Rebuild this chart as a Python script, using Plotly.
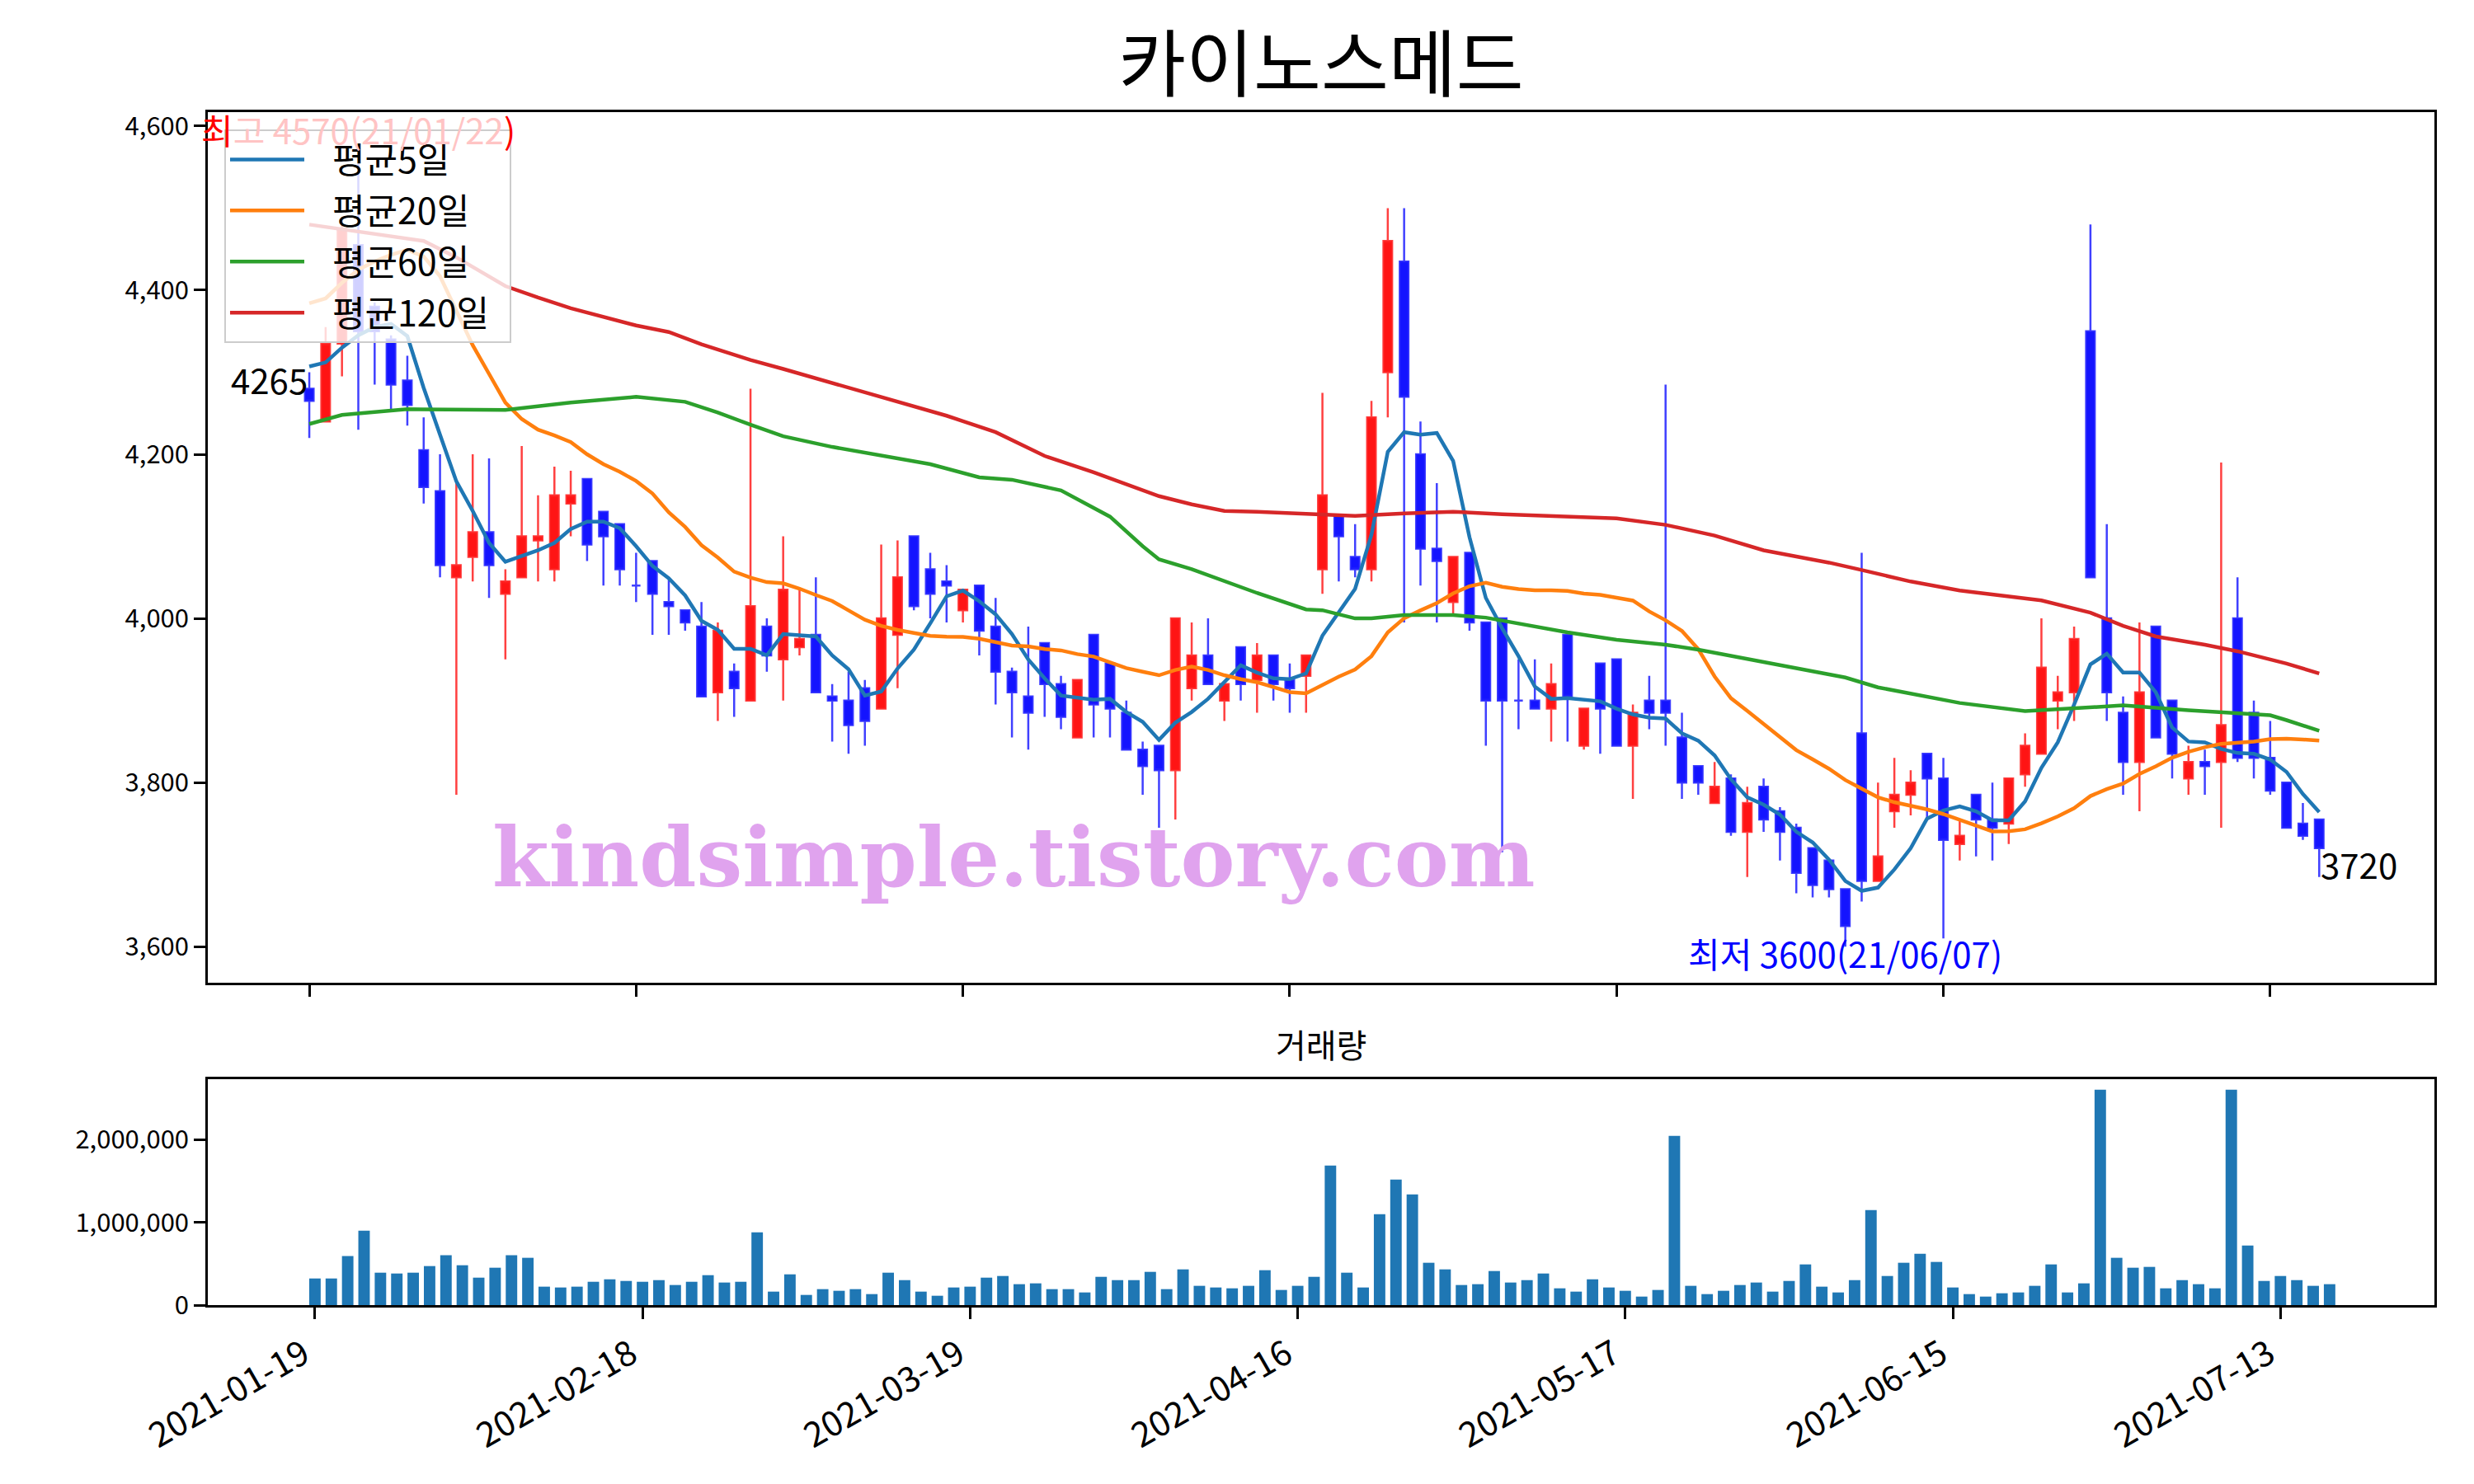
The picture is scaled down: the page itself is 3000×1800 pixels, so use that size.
import plotly.graph_objects as go
import pandas as pd

# ---------------- data ----------------
tick_idx = [0, 20, 40, 60, 80, 100, 120]
tick_labels = ["2021-01-19", "2021-02-18", "2021-03-19", "2021-04-16",
               "2021-05-17", "2021-06-15", "2021-07-13"]

opens = [4280,4240,4335,4455,4380,4340,4290,4205,4155,4050,
         4075,4105,4030,4050,4095,4060,4140,4170,4130,4115,
         4040,4070,4020,4010,3990,3910,3935,3900,3990,3950,
         3965,3980,3905,3900,3915,3890,3980,4100,4060,4045,
         4010,4040,3990,3935,3905,3970,3920,3855,3980,3945,
         3885,3840,3845,3815,3915,3955,3900,3965,3925,3955,
         3925,3930,4060,4125,4075,4060,4300,4435,4200,4085,
         4020,4080,3995,4000,3900,3900,3890,3980,3845,3945,
         3950,3845,3900,3900,3855,3820,3775,3805,3740,3795,
         3765,3745,3720,3705,3670,3860,3680,3765,3785,3835,
         3805,3725,3785,3755,3750,3810,3835,3900,3910,4350,
         4000,3885,3825,3990,3900,3805,3825,3825,4000,3885,
         3830,3800,3750,3755]
highs = [4300,4355,4485,4570,4385,4345,4320,4245,4200,4165,
         4200,4195,4060,4210,4150,4185,4180,4170,4130,4115,
         4080,4070,4050,4010,4020,3995,3945,4280,4000,4100,
         4035,4050,3920,3935,3925,4090,4095,4100,4080,4065,
         4035,4040,4025,3940,3990,3970,3930,3925,3980,3945,
         3900,3850,3845,4000,3995,4000,3920,3965,3970,3955,
         3945,3955,4275,4125,4115,4265,4500,4500,4240,4165,
         4075,4080,3995,4000,3950,3950,3945,3980,3890,3945,
         3950,3895,3930,4285,3885,3820,3825,3810,3795,3805,
         3770,3750,3720,3705,3670,4080,3800,3830,3815,3835,
         3830,3755,3785,3800,3805,3860,4000,3930,3990,4480,
         4115,3905,3995,3990,3900,3845,3840,4190,4050,3900,
         3875,3800,3775,3755]
lows = [4220,4240,4295,4230,4285,4255,4235,4140,4050,3785,
        4045,4025,3950,4050,4045,4045,4100,4070,4040,4040,
        4020,3980,3980,3985,3905,3875,3880,3900,3935,3900,
        3955,3910,3850,3835,3845,3890,3915,4010,4000,3995,
        3995,3955,3895,3855,3840,3880,3865,3855,3855,3855,
        3840,3785,3745,3755,3900,3920,3875,3900,3885,3900,
        3885,3885,4030,4045,4050,4045,4245,3995,4040,3995,
        4005,3985,3845,3715,3865,3890,3850,3850,3840,3835,
        3845,3780,3865,3845,3780,3785,3775,3735,3685,3740,
        3705,3665,3660,3660,3600,3655,3680,3745,3760,3755,
        3610,3705,3710,3705,3725,3795,3835,3865,3875,4050,
        3875,3785,3765,3855,3805,3785,3785,3745,3825,3805,
        3785,3745,3730,3685]
closes = [4265,4335,4475,4350,4350,4285,4260,4160,4065,4065,
          4105,4065,4045,4100,4100,4150,4150,4090,4100,4060,
          4040,4030,4015,3995,3905,3985,3915,4015,3955,4035,
          3975,3910,3900,3870,3875,4000,4050,4015,4030,4040,
          4035,3985,3935,3910,3885,3920,3880,3925,3895,3890,
          3840,3820,3815,4000,3955,3920,3920,3920,3955,3920,
          3915,3955,4150,4100,4060,4245,4460,4270,4085,4070,
          4075,3995,3900,3900,3900,3890,3920,3905,3890,3890,
          3845,3885,3885,3885,3800,3800,3795,3740,3775,3755,
          3740,3690,3675,3670,3625,3680,3710,3785,3800,3805,
          3730,3735,3755,3745,3805,3845,3940,3910,3975,4050,
          3910,3825,3910,3855,3835,3825,3820,3870,3830,3830,
          3790,3745,3735,3720]
volumes = [322000,322000,592000,900000,392000,382000,392000,472000,602000,482000,
           332000,452000,602000,572000,223000,213000,223000,282000,312000,292000,
           282000,302000,243000,282000,362000,273000,282000,881000,163000,372000,
           123000,193000,173000,193000,133000,392000,302000,163000,113000,213000,
           223000,332000,352000,253000,263000,193000,193000,153000,342000,302000,
           302000,402000,193000,432000,233000,213000,203000,233000,422000,183000,
           233000,342000,1688000,392000,213000,1100000,1519000,1339000,512000,432000,
           243000,253000,412000,273000,302000,382000,203000,163000,312000,213000,
           173000,103000,183000,2047000,233000,133000,173000,243000,273000,163000,
           292000,492000,223000,153000,302000,1150000,352000,512000,621000,522000,
           213000,133000,103000,143000,153000,233000,492000,153000,263000,2606000,
           572000,452000,462000,203000,302000,253000,203000,2606000,721000,292000,
           352000,302000,233000,253000]

ma5_head = [4307, 4312, 4330, 4345]
ma20_head = [4384, 4390, 4409, 4425, 4435, 4443, 4449, 4441, 4417, 4376,
             4333, 4298, 4263, 4243, 4230, 4223, 4215, 4200, 4188]
ma60_idx = [0,2,6,12,16,20,23,25,27,29,32,35,38,41,43,46,49,51,52,54,56,58,61,62,
            64,65,67,70,72,74,77,80,83,85,88,91,94,96,99,101,105,108,111,115,118,120,121,123]
ma60_val = [4237,4248,4255,4254,4263,4270,4264,4251,4236,4222,4209,4198,4188,4172,4169,
            4156,4124,4088,4072,4060,4045,4031,4011,4010,4000,4000,4004,4004,4001,3994,
            3983,3974,3968,3962,3951,3940,3928,3916,3905,3897,3887,3890,3894,3888,3885,
            3882,3876,3863]
ma120_idx = [0,7,9,12,14,16,20,22,24,27,29,33,36,39,42,45,48,51,52,54,56,58,61,64,67,70,
             73,77,80,83,86,89,93,95,98,101,103,106,109,111,113,116,118,121,123]
ma120_val = [4480,4460,4440,4405,4391,4378,4357,4349,4334,4315,4304,4281,4264,4247,4227,
             4198,4178,4157,4149,4139,4131,4130,4128,4125,4128,4130,4127,4124,4122,4114,
             4101,4083,4068,4059,4045,4034,4029,4022,4007,3991,3978,3968,3960,3945,3933]

idx = list(range(len(closes)))
cs = pd.Series(closes, dtype=float)
ma5 = ma5_head + cs.rolling(5).mean().tolist()[len(ma5_head):]
ma20 = ma20_head + cs.rolling(20).mean().tolist()[len(ma20_head):]

FONT = "Noto Sans CJK KR"
W, H = 2984, 1784   # page body has an 8px margin

fig = go.Figure()
fig.add_trace(go.Candlestick(
    x=idx, open=opens, high=highs, low=lows, close=closes,
    increasing=dict(line=dict(color="rgba(255,30,30,0.85)", width=2.5),
                    fillcolor="rgba(255,0,0,0.92)"),
    decreasing=dict(line=dict(color="rgba(30,30,255,0.85)", width=2.5),
                    fillcolor="rgba(0,0,255,0.92)"),
    whiskerwidth=0, showlegend=False, hoverinfo="skip",
    xaxis="x", yaxis="y"))

NB = "\u00a0\u00a0\u00a0"
lines = [("평균5일", idx, ma5, "#1f77b4"),
         ("평균20일", idx, ma20, "#ff7f0e"),
         ("평균60일", ma60_idx, ma60_val, "#2ca02c"),
         ("평균120일", ma120_idx, ma120_val, "#d62728")]
for k, (name, xs, ys, col) in enumerate(lines):
    fig.add_trace(go.Scatter(x=xs, y=ys, mode="lines", name=NB + name + "\u00a0\u00a0",
                             line=dict(color=col, width=4.5),
                             legendgroup=f"g{k}", xaxis="x", yaxis="y"))

fig.add_trace(go.Bar(x=idx, y=volumes, marker=dict(color="#1f77b4", line=dict(width=0)),
                     width=0.7, showlegend=False, xaxis="x2", yaxis="y2"))

axis_common = dict(showline=True, mirror=True, linecolor="black", linewidth=2.5,
                   ticks="outside", ticklen=14, tickwidth=2.5, tickcolor="black",
                   showgrid=False, zeroline=False)
tf = dict(family=FONT, size=31, color="black")

fig.update_layout(
    width=W, height=H,
    paper_bgcolor="white", plot_bgcolor="white",
    margin=dict(l=244, r=40, t=128, b=209, autoexpand=False),
    font=dict(family=FONT, color="black"),
    title=dict(text="카이노스메드", x=0.5, xref="paper", y=1 - 71 / H, yref="container",
               xanchor="center", yanchor="middle", font=dict(family=FONT, size=89, color="black")),
    xaxis=dict(domain=[0, 1], range=[-6.21, 130.05], anchor="y", tickvals=tick_idx,
               showticklabels=False, rangeslider=dict(visible=False), **axis_common),
    yaxis=dict(domain=[0.2702, 1], range=[3556, 4617], anchor="x",
               tickvals=[3600, 3800, 4000, 4200, 4400, 4600], tickformat=",",
               tickfont=tf, **axis_common),
    xaxis2=dict(domain=[0, 1], range=[-6.54, 129.4], anchor="y2", tickvals=tick_idx,
                ticktext=tick_labels, tickangle=-30, ticklabelstandoff=2, ticklabelshift=-14,
                tickfont=dict(family=FONT, size=42, color="black"), **axis_common),
    yaxis2=dict(domain=[0, 0.1897], range=[0, 2737000], anchor="x2",
                tickvals=[0, 1000000, 2000000], tickformat=",", tickfont=tf, **axis_common),
    legend=dict(x=0.0074, y=0.9855, xanchor="left", yanchor="top",
                bgcolor="rgba(255,255,255,0.8)", bordercolor="#cccccc", borderwidth=2,
                font=dict(family=FONT, size=43, color="black"),
                itemwidth=90, traceorder="grouped", tracegroupgap=3),
    boxgap=0.24,
    showlegend=True,
)

max_text = ('<span style="color:#ff0000">최</span>'
            '<span style="color:#ffc4c4">고 4570(21/01/22</span>'
            '<span style="color:#ff0000">)</span>')
ann = [
    dict(x=3, y=4570, xref="x", yref="y", text=max_text, showarrow=False, yshift=-6,
         xanchor="center", yanchor="bottom", font=dict(family=FONT, size=42, color="red")),
    dict(x=94, y=3600, xref="x", yref="y", text="최저 3600(21/06/07)", showarrow=False,
         yshift=25, xanchor="center", yanchor="top",
         font=dict(family=FONT, size=42, color="blue")),
    dict(x=0, y=4265, xref="x", yref="y", text="4265", showarrow=False, yshift=-6,
         xanchor="right", yanchor="bottom", font=dict(family=FONT, size=42, color="black")),
    dict(x=123, y=3720, xref="x", yref="y", text="3720", showarrow=False, yshift=14,
         xanchor="left", yanchor="top", font=dict(family=FONT, size=42, color="black")),
    dict(x=43.1, y=3709, xref="x", yref="y", text="<b>kindsimple.tistory.com</b>",
         showarrow=False, xanchor="center", yanchor="middle",
         font=dict(family="DejaVu Serif", size=99, color="#e0a3ee")),
    dict(x=0.5, y=0.219, xref="paper", yref="paper", text="거래량", showarrow=False,
         xanchor="center", yanchor="middle", font=dict(family=FONT, size=40, color="black")),
]
fig.update_layout(annotations=ann)

fig.write_html("out.html")
